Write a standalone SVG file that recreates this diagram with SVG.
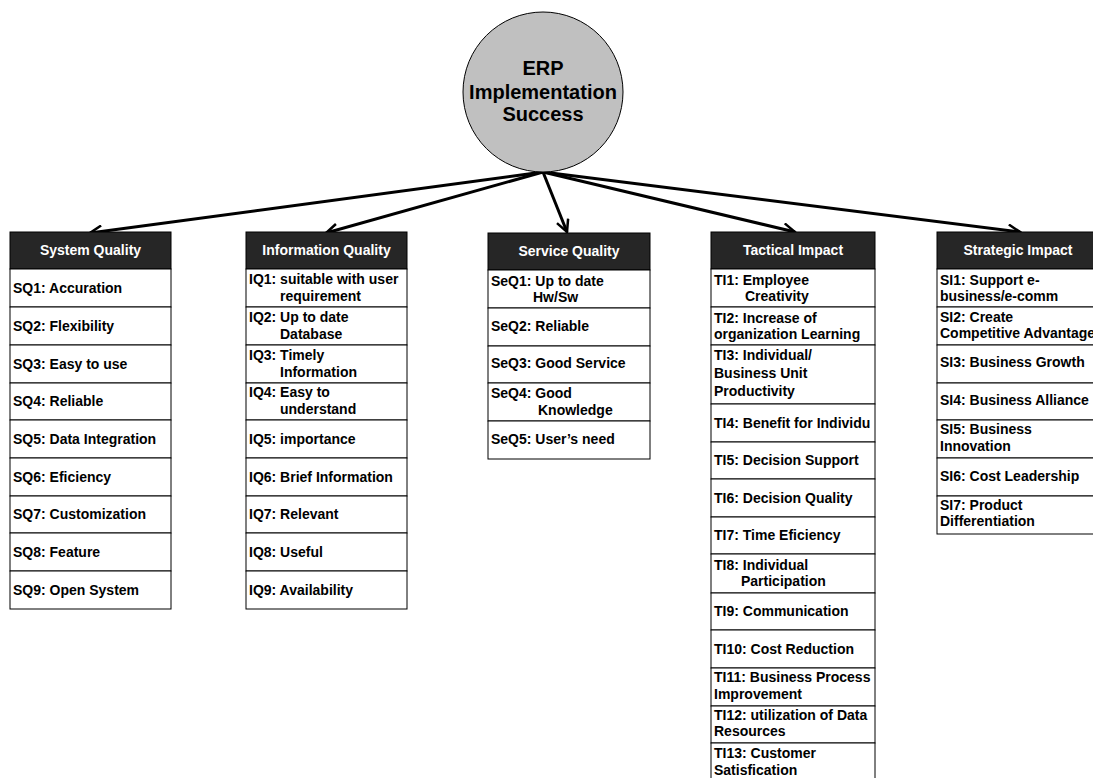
<svg xmlns="http://www.w3.org/2000/svg" width="1093" height="778" viewBox="0 0 1093 778">
<style>
.hdr{fill:#262626;stroke:#000;stroke-width:1}
.row{fill:#fff;stroke:#000;stroke-width:1}
.ht{font-family:"Liberation Sans",Arial,sans-serif;font-size:14px;font-weight:bold;fill:#fff;text-anchor:middle}
.t{font-family:"Liberation Sans",Arial,sans-serif;font-size:14px;font-weight:bold;fill:#000}
.ct{font-family:"Liberation Sans",Arial,sans-serif;font-size:20px;font-weight:bold;fill:#000;text-anchor:middle}
.conn{stroke:#000;stroke-width:3;fill:none}
</style>
<defs>
<marker id="arr" viewBox="0 0 16 14" refX="14" refY="7" markerWidth="16" markerHeight="14" markerUnits="userSpaceOnUse" orient="auto">
<path d="M2,1 L14,7 L2,13" fill="none" stroke="#000" stroke-width="2.5" stroke-linejoin="miter"/>
</marker>
</defs>
<rect width="1093" height="778" fill="#fff"/>

<g id="connectors">
<line class="conn" x1="543" y1="172" x2="90" y2="233" marker-end="url(#arr)"/>
<line class="conn" x1="543" y1="172" x2="326" y2="233" marker-end="url(#arr)"/>
<line class="conn" x1="543" y1="172" x2="567" y2="232" marker-end="url(#arr)"/>
<line class="conn" x1="543" y1="172" x2="795" y2="232" marker-end="url(#arr)"/>
<line class="conn" x1="543" y1="172" x2="1020" y2="232" marker-end="url(#arr)"/>
</g>

<g id="root">
<circle cx="543" cy="92" r="80" fill="#c0c0c0" stroke="#000" stroke-width="1"/>
<text class="ct" x="543" y="75">ERP</text>
<text class="ct" x="543" y="99">Implementation</text>
<text class="ct" x="543" y="121">Success</text>
</g>

<g id="system-quality">
<rect class="hdr" x="10" y="232" width="161" height="37"/>
<text class="ht" x="90.5" y="255">System Quality</text>
<rect class="row" x="10" y="269" width="161" height="38"/>
<rect class="row" x="10" y="307" width="161" height="38"/>
<rect class="row" x="10" y="345" width="161" height="38"/>
<rect class="row" x="10" y="383" width="161" height="37"/>
<rect class="row" x="10" y="420" width="161" height="38"/>
<rect class="row" x="10" y="458" width="161" height="38"/>
<rect class="row" x="10" y="496" width="161" height="37"/>
<rect class="row" x="10" y="533" width="161" height="38"/>
<rect class="row" x="10" y="571" width="161" height="38"/>
<text class="t" x="13" y="293">SQ1: Accuration</text>
<text class="t" x="13" y="331">SQ2: Flexibility</text>
<text class="t" x="13" y="369">SQ3: Easy to use</text>
<text class="t" x="13" y="406">SQ4: Reliable</text>
<text class="t" x="13" y="444">SQ5: Data Integration</text>
<text class="t" x="13" y="482">SQ6: Eficiency</text>
<text class="t" x="13" y="519">SQ7: Customization</text>
<text class="t" x="13" y="557">SQ8: Feature</text>
<text class="t" x="13" y="595">SQ9: Open System</text>
</g>

<g id="information-quality">
<rect class="hdr" x="246" y="232" width="161" height="37"/>
<text class="ht" x="326.5" y="255">Information Quality</text>
<rect class="row" x="246" y="269" width="161" height="38"/>
<rect class="row" x="246" y="307" width="161" height="38"/>
<rect class="row" x="246" y="345" width="161" height="38"/>
<rect class="row" x="246" y="383" width="161" height="37"/>
<rect class="row" x="246" y="420" width="161" height="38"/>
<rect class="row" x="246" y="458" width="161" height="38"/>
<rect class="row" x="246" y="496" width="161" height="37"/>
<rect class="row" x="246" y="533" width="161" height="38"/>
<rect class="row" x="246" y="571" width="161" height="38"/>
<text class="t" x="249" y="284">IQ1: suitable with user</text>
<text class="t" x="280" y="301">requirement</text>
<text class="t" x="249" y="322">IQ2: Up to date</text>
<text class="t" x="280" y="339">Database</text>
<text class="t" x="249" y="360">IQ3: Timely</text>
<text class="t" x="280" y="377">Information</text>
<text class="t" x="249" y="397">IQ4: Easy to</text>
<text class="t" x="280" y="414">understand</text>
<text class="t" x="249" y="444">IQ5: importance</text>
<text class="t" x="249" y="482">IQ6: Brief Information</text>
<text class="t" x="249" y="519">IQ7: Relevant</text>
<text class="t" x="249" y="557">IQ8: Useful</text>
<text class="t" x="249" y="595">IQ9: Availability</text>
</g>

<g id="service-quality">
<rect class="hdr" x="488" y="233" width="162" height="37"/>
<text class="ht" x="569" y="256">Service Quality</text>
<rect class="row" x="488" y="270" width="162" height="38"/>
<rect class="row" x="488" y="308" width="162" height="38"/>
<rect class="row" x="488" y="346" width="162" height="37"/>
<rect class="row" x="488" y="383" width="162" height="38"/>
<rect class="row" x="488" y="421" width="162" height="38"/>
<text class="t" x="491" y="286">SeQ1: Up to date</text>
<text class="t" x="533" y="302">Hw/Sw</text>
<text class="t" x="491" y="331">SeQ2: Reliable</text>
<text class="t" x="491" y="368">SeQ3: Good Service</text>
<text class="t" x="491" y="398">SeQ4: Good</text>
<text class="t" x="538" y="415">Knowledge</text>
<text class="t" x="491" y="444">SeQ5: User’s need</text>
</g>

<g id="tactical-impact">
<rect class="hdr" x="711" y="232" width="164" height="37"/>
<text class="ht" x="793" y="255">Tactical Impact</text>
<rect class="row" x="711" y="269" width="164" height="38"/>
<rect class="row" x="711" y="307" width="164" height="38"/>
<rect class="row" x="711" y="345" width="164" height="59"/>
<rect class="row" x="711" y="404" width="164" height="38"/>
<rect class="row" x="711" y="442" width="164" height="37"/>
<rect class="row" x="711" y="479" width="164" height="38"/>
<rect class="row" x="711" y="517" width="164" height="37"/>
<rect class="row" x="711" y="554" width="164" height="39"/>
<rect class="row" x="711" y="593" width="164" height="37"/>
<rect class="row" x="711" y="630" width="164" height="38"/>
<rect class="row" x="711" y="668" width="164" height="38"/>
<rect class="row" x="711" y="706" width="164" height="37"/>
<rect class="row" x="711" y="743" width="164" height="40"/>
<text class="t" x="714" y="285">TI1: Employee</text>
<text class="t" x="745" y="301">Creativity</text>
<text class="t" x="714" y="323">TI2: Increase of</text>
<text class="t" x="714" y="339">organization Learning</text>
<text class="t" x="714" y="360">TI3: Individual/</text>
<text class="t" x="714" y="378">Business Unit</text>
<text class="t" x="714" y="396">Productivity</text>
<text class="t" x="714" y="428">TI4: Benefit for Individu</text>
<text class="t" x="714" y="465">TI5: Decision Support</text>
<text class="t" x="714" y="503">TI6: Decision Quality</text>
<text class="t" x="714" y="540">TI7: Time Eficiency</text>
<text class="t" x="714" y="570">TI8: Individual</text>
<text class="t" x="741" y="586">Participation</text>
<text class="t" x="714" y="616">TI9: Communication</text>
<text class="t" x="714" y="654">TI10: Cost Reduction</text>
<text class="t" x="714" y="682">TI11: Business Process</text>
<text class="t" x="714" y="699">Improvement</text>
<text class="t" x="714" y="720">TI12: utilization of Data</text>
<text class="t" x="714" y="736">Resources</text>
<text class="t" x="714" y="758">TI13: Customer</text>
<text class="t" x="714" y="775">Satisfication</text>
</g>

<g id="strategic-impact">
<rect class="hdr" x="937" y="232" width="162" height="37"/>
<text class="ht" x="1018" y="255">Strategic Impact</text>
<rect class="row" x="937" y="269" width="162" height="38"/>
<rect class="row" x="937" y="307" width="162" height="38"/>
<rect class="row" x="937" y="345" width="162" height="38"/>
<rect class="row" x="937" y="383" width="162" height="37"/>
<rect class="row" x="937" y="420" width="162" height="38"/>
<rect class="row" x="937" y="458" width="162" height="38"/>
<rect class="row" x="937" y="496" width="162" height="38"/>
<text class="t" x="940" y="285">SI1: Support e-</text>
<text class="t" x="940" y="301">business/e-comm</text>
<text class="t" x="940" y="322">SI2: Create</text>
<text class="t" x="940" y="338">Competitive Advantage</text>
<text class="t" x="940" y="367">SI3: Business Growth</text>
<text class="t" x="940" y="405">SI4: Business Alliance</text>
<text class="t" x="940" y="434">SI5: Business</text>
<text class="t" x="940" y="451">Innovation</text>
<text class="t" x="940" y="481">SI6: Cost Leadership</text>
<text class="t" x="940" y="510">SI7: Product</text>
<text class="t" x="940" y="526">Differentiation</text>
</g>
</svg>
